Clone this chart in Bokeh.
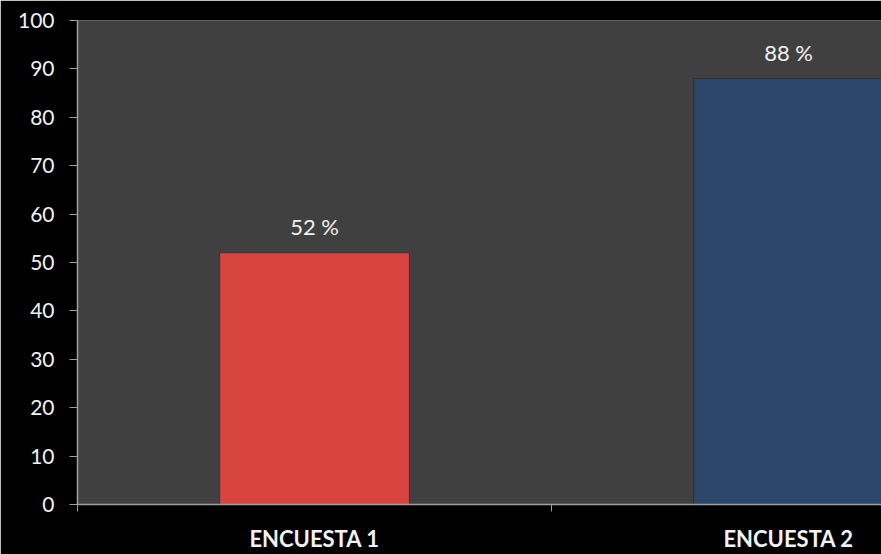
from bokeh.plotting import figure
from bokeh.models import Range1d, FixedTicker, ColumnDataSource
from bokeh.embed import file_html
from bokeh.resources import INLINE
from bokeh.core.properties import value

categories = ["ENCUESTA 1", "ENCUESTA 2"]
values = [52, 88]
labels = ["52 %", "88 %"]
colors = ["#d84540", "#2c476b"]
y_ticks = [0, 10, 20, 30, 40, 50, 60, 70, 80, 90, 100]

xs = [i + 0.5 for i in range(len(categories))]
src = ColumnDataSource(dict(x=xs, top=values, label=labels, color=colors))

p = figure(width=881, height=554, output_backend="svg", toolbar_location=None,
           x_range=Range1d(0, 1.696), y_range=Range1d(0, 100),
           min_border_left=77, min_border_right=0, min_border_top=20, min_border_bottom=50,
           background_fill_color="#404040", border_fill_color="#000000")
p.outline_line_color = None
p.xgrid.visible = False
p.ygrid.visible = False

p.vbar(x="x", top="top", bottom=0, width=0.4, fill_color="color", line_color="#1a1a1a",
       line_alpha=0.5, source=src)
p.text(x="x", y="top", text="label", source=src, y_offset=-26,
       text_align="center", text_baseline="middle", text_color="#f2f2f2",
       text_font=value("Lato"), text_font_size="22px")

p.xaxis.ticker = FixedTicker(ticks=xs, minor_ticks=[0, 1, 2])
p.xaxis.major_label_overrides = {x: c for x, c in zip(xs, categories)}
p.xaxis.major_tick_line_color = None
p.xaxis.major_tick_out = 0
p.xaxis.major_tick_in = 0
p.xaxis.minor_tick_line_color = "#a0a0a0"
p.xaxis.minor_tick_out = 7
p.xaxis.minor_tick_in = 0
p.xaxis.axis_line_color = "#a0a0a0"
p.xaxis.axis_line_width = 1.5
p.xaxis.major_label_text_color = "#f2f2f2"
p.xaxis.major_label_text_font = "Lato"
p.xaxis.major_label_text_font_size = "22px"
p.xaxis.major_label_text_font_style = "bold"
p.xaxis.major_label_standoff = 13

p.yaxis.ticker = FixedTicker(ticks=y_ticks)
p.yaxis.minor_tick_line_color = None
p.yaxis.major_tick_out = 8
p.yaxis.major_tick_in = 0
p.yaxis.major_tick_line_color = "#a0a0a0"
p.yaxis.axis_line_color = "#a0a0a0"
p.yaxis.axis_line_width = 1.5
p.yaxis.major_label_text_color = "#f2f2f2"
p.yaxis.major_label_text_font = "Lato"
p.yaxis.major_label_text_font_size = "21px"
p.yaxis.major_label_standoff = 15

open("out.html", "w").write(file_html(p, INLINE))
